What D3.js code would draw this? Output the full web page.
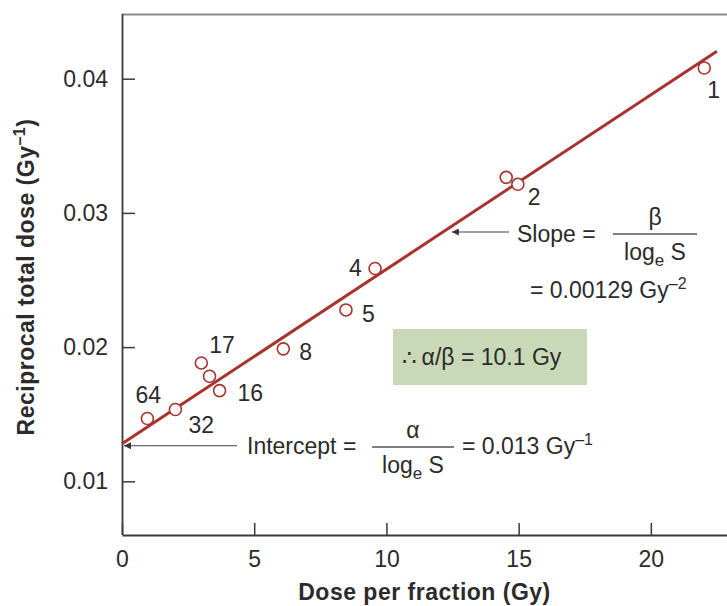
<!DOCTYPE html>
<html>
  <head>
    <script src="https://d3js.org/d3.v7.min.js"></script>
    <style>
      body { margin: 0; background: #fff; }
      text { font-family: "Liberation Sans", Arial, sans-serif; fill: #2b2b2b; }
    </style>
  </head>
  <body>
    <script>

    // measured points: dose per fraction vs reciprocal total dose
    var dosePerFraction = [0.96, 2.02, 3.00, 3.31, 3.69, 6.10, 8.47, 9.57, 14.53, 14.97, 22.02];
    var reciprocalDose  = [0.01468, 0.01535, 0.01882, 0.01783, 0.01676, 0.01987, 0.02277, 0.02586, 0.03265, 0.03213, 0.04080];
    // number of fractions shown next to points ("" = no label)
    var fractionLabels  = ["64", "32", "17", "", "16", "8", "5", "4", "", "2", "1"];

    var xTicks = [0, 5, 10, 15, 20];
    var yTicks = [0.01, 0.02, 0.03, 0.04];

    // fitted line
    var fitIntercept = 0.0128;
    var fitSlope = 0.00130;
    var fitRange = [0, 22.5];

    var w = 727, h = 606;
    var mLeft = 122, mTop = 14, mBottom = 535, mRight = 727;
    var red = "#a8322d";
    var fs = "23px";

    var svg = d3.select("body").append("svg")
      .attr("width", w)
      .attr("height", h);

    var x = d3.scaleLinear().domain([0, 22.88]).range([mLeft, mRight]);
    var y = d3.scaleLinear().domain([0.006, 0.04482]).range([mBottom, mTop]);

    // top frame line
    svg.append("line")
      .attr("x1", mLeft).attr("x2", mRight)
      .attr("y1", mTop + 0.5).attr("y2", mTop + 0.5)
      .attr("stroke", "#8a8a8a").attr("stroke-width", 2);

    // axes (ticks point inward)
    var xAxis = svg.append("g")
      .attr("transform", "translate(0," + mBottom + ")")
      .call(d3.axisBottom(x).tickValues(xTicks).tickSizeInner(-12).tickSizeOuter(0).tickPadding(16)
        .tickFormat(d3.format("d")));
    var yAxis = svg.append("g")
      .attr("transform", "translate(" + mLeft + ",0)")
      .call(d3.axisLeft(y).tickValues(yTicks).tickSizeInner(-13).tickSizeOuter(0).tickPadding(14)
        .tickFormat(d3.format(".2f")));

    [xAxis, yAxis].forEach(function(g) {
      g.select(".domain").attr("stroke", "#3a3a3a").attr("stroke-width", 1.8);
      g.selectAll(".tick line").attr("stroke", "#3a3a3a").attr("stroke-width", 1.5);
      g.selectAll(".tick text").attr("font-size", fs).attr("fill", "#2b2b2b")
        .attr("font-family", "'Liberation Sans', Arial, sans-serif");
    });
    // extend y axis to the top frame
    yAxis.select(".domain").attr("d", "M0.5," + mBottom + "V" + mTop);

    // axis titles
    svg.append("text")
      .attr("x", (mLeft + mRight) / 2).attr("y", 600)
      .attr("text-anchor", "middle")
      .attr("font-size", fs).attr("font-weight", "bold").attr("letter-spacing", "0.5px")
      .text("Dose per fraction (Gy)");

    var yt = svg.append("text")
      .attr("transform", "translate(34,277) rotate(-90)")
      .attr("text-anchor", "middle")
      .attr("font-size", fs).attr("font-weight", "bold").attr("letter-spacing", "0.5px");
    yt.append("tspan").text("Reciprocal total dose (Gy");
    yt.append("tspan").attr("dy", -9).attr("font-size", "16px").text("\u20131");
    yt.append("tspan").attr("dy", 9).text(")");

    // fitted line
    svg.append("line")
      .attr("x1", x(fitRange[0])).attr("y1", y(fitIntercept + fitSlope * fitRange[0]))
      .attr("x2", x(fitRange[1])).attr("y2", y(fitIntercept + fitSlope * fitRange[1]))
      .attr("stroke", red).attr("stroke-width", 3);

    // points
    var pts = dosePerFraction.map(function(d, i) {
      return { x: d, y: reciprocalDose[i], label: fractionLabels[i] };
    });
    svg.selectAll("circle")
      .data(pts)
      .enter()
      .append("circle")
      .attr("cx", function(d) { return x(d.x); })
      .attr("cy", function(d) { return y(d.y); })
      .attr("r", 6)
      .attr("fill", "#fff")
      .attr("stroke", red)
      .attr("stroke-width", 1.6);

    // point labels, offset from their point
    var labelOffset = {
      "64": [-12, -16], "32": [13, 23], "17": [8, -10], "16": [18, 10],
      "8": [16, 11], "5": [16, 12], "4": [-26, 8], "2": [10, 21], "1": [3, 30]
    };
    svg.selectAll("text.lbl")
      .data(pts.filter(function(d) { return d.label !== ""; }))
      .enter()
      .append("text")
      .attr("class", "lbl")
      .attr("x", function(d) { return x(d.x) + labelOffset[d.label][0]; })
      .attr("y", function(d) { return y(d.y) + labelOffset[d.label][1]; })
      .attr("font-size", fs)
      .text(function(d) { return d.label; });

    // arrow marker (tip at the start of the line, pointing left)
    svg.append("defs").append("marker")
      .attr("id", "arr")
      .attr("viewBox", "0 0 10 10")
      .attr("refX", 0).attr("refY", 5)
      .attr("markerWidth", 11).attr("markerHeight", 7)
      .attr("markerUnits", "userSpaceOnUse")
      .attr("orient", "auto")
      .append("path")
      .attr("d", "M10,0 L0,5 L10,10 z")
      .attr("fill", "#333");

    function fraction(cx, barY, numer, width) {
      svg.append("text").attr("x", cx).attr("y", barY - 9)
        .attr("text-anchor", "middle").attr("font-size", fs).text(numer);
      svg.append("line").attr("x1", cx - width / 2).attr("x2", cx + width / 2)
        .attr("y1", barY).attr("y2", barY)
        .attr("stroke", "#555").attr("stroke-width", 1.3);
      var d = svg.append("text").attr("x", cx).attr("y", barY + 26)
        .attr("text-anchor", "middle").attr("font-size", fs);
      d.append("tspan").text("log");
      d.append("tspan").attr("dy", 6).attr("font-size", "17px").text("e");
      d.append("tspan").attr("dy", -6).text(" S");
    }

    // slope annotation
    var slopeX = 12.4;
    svg.append("line")
      .attr("x1", x(slopeX) + 2).attr("y1", 232)
      .attr("x2", 509).attr("y2", 232)
      .attr("stroke", "#444").attr("stroke-width", 1.2)
      .attr("marker-start", "url(#arr)");
    svg.append("text").attr("x", 517).attr("y", 242).attr("font-size", fs).text("Slope =");
    fraction(655, 234, "\u03b2", 84);
    var s2 = svg.append("text").attr("x", 530).attr("y", 298).attr("font-size", fs);
    s2.append("tspan").text("= 0.00129 Gy");
    s2.append("tspan").attr("dy", -9).attr("font-size", "16px").text("\u20132");

    // intercept annotation
    svg.append("line")
      .attr("x1", x(0) + 2).attr("y1", y(fitIntercept) + 2)
      .attr("x2", 237).attr("y2", y(fitIntercept) + 2)
      .attr("stroke", "#444").attr("stroke-width", 1.2)
      .attr("marker-start", "url(#arr)");
    svg.append("text").attr("x", 247).attr("y", 454).attr("font-size", fs).text("Intercept =");
    fraction(413, 447, "\u03b1", 82);
    var s1 = svg.append("text").attr("x", 462).attr("y", 454).attr("font-size", fs);
    s1.append("tspan").text("= 0.013 Gy");
    s1.append("tspan").attr("dy", -9).attr("font-size", "16px").text("\u20131");

    // alpha/beta box
    svg.append("rect")
      .attr("x", 393).attr("y", 329).attr("width", 194).attr("height", 56)
      .attr("fill", "#c9d9b8");
    svg.append("text").attr("x", 402).attr("y", 365).attr("font-size", fs)
      .text("\u2234\u2009\u03b1/\u03b2 = 10.1 Gy");

    </script>
  </body>
</html>
